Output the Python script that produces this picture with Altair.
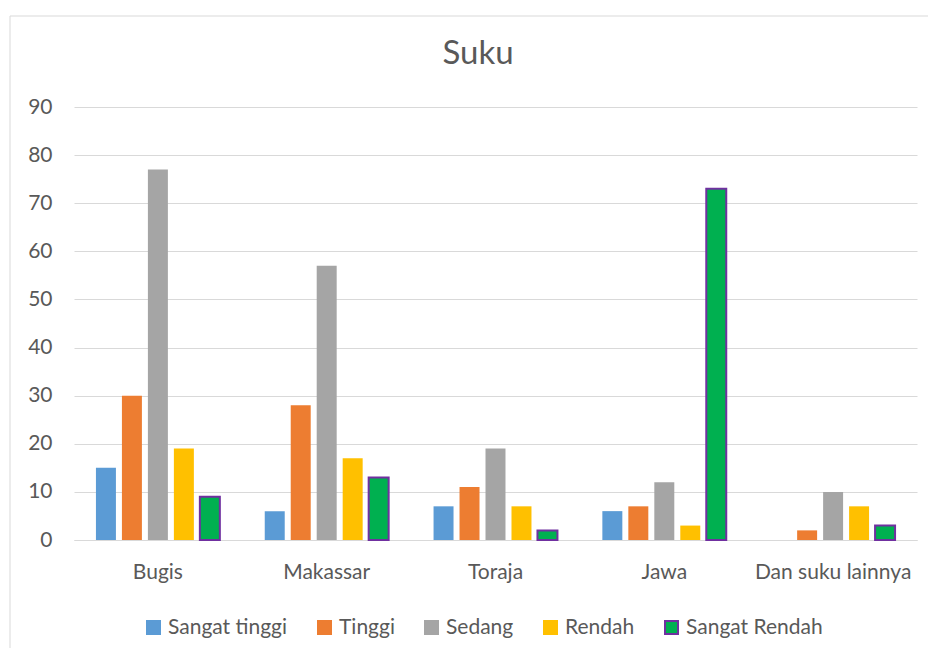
import altair as alt
import pandas as pd

categories = ["Bugis", "Makassar", "Toraja", "Jawa", "Dan suku lainnya"]
series = ["Sangat tinggi", "Tinggi", "Sedang", "Rendah", "Sangat Rendah"]
sangat_tinggi = [15, 6, 7, 6, 0]
tinggi = [30, 28, 11, 7, 2]
sedang = [77, 57, 19, 12, 10]
rendah = [19, 17, 7, 3, 7]
sangat_rendah = [9, 13, 2, 73, 3]
y_ticks = [0, 10, 20, 30, 40, 50, 60, 70, 80, 90]

fill_colors = ["#5B9BD5", "#ED7D31", "#A5A5A5", "#FFC000", "#00B050"]
stroke_colors = ["#5B9BD5", "#ED7D31", "#A5A5A5", "#FFC000", "#7030A0"]

rows = []
for s, vals in zip(series, [sangat_tinggi, tinggi, sedang, rendah, sangat_rendah]):
    for c, v in zip(categories, vals):
        rows.append({"Suku": c, "Series": s, "Value": v})
df = pd.DataFrame(rows)

FONT = "Lato"
TXT = "#595959"

legend = alt.Legend(
    title=None, orient="none", direction="horizontal",
    legendX=69, legendY=510,
    symbolType="square", symbolSize=169, symbolStrokeWidth=2,
    labelFont=FONT, labelFontSize=21, labelColor=TXT,
    labelOffset=4, columnPadding=26,
)

bars = alt.Chart(df).mark_bar().encode(
    x=alt.X("Suku:N", sort=categories,
            scale=alt.Scale(domain=categories, paddingInner=0.266, paddingOuter=0.13),
            axis=alt.Axis(title=None, labelAngle=0, ticks=False, domain=True,
                          domainColor="#D9D9D9", labelPadding=21,
                          labelFont=FONT, labelFontSize=21, labelColor=TXT)),
    xOffset=alt.XOffset("Series:N", sort=series,
                        scale=alt.Scale(domain=series, paddingInner=0.2308)),
    y=alt.Y("Value:Q", scale=alt.Scale(domain=[0, 90], nice=False),
            axis=alt.Axis(title=None, values=y_ticks, grid=True, gridColor="#D9D9D9",
                          domain=False, ticks=False, labelPadding=22,
                          labelFont=FONT, labelFontSize=21, labelColor=TXT)),
    fill=alt.Fill("Series:N", sort=series,
                  scale=alt.Scale(domain=series, range=fill_colors), legend=legend),
    stroke=alt.Stroke("Series:N", sort=series,
                      scale=alt.Scale(domain=series, range=stroke_colors), legend=legend),
    strokeWidth=alt.condition("datum.Series == 'Sangat Rendah'", alt.value(2), alt.value(0)),
)

one = pd.DataFrame({"t": ["Suku"]})

title = alt.Chart(one).mark_text(
    font=FONT, fontSize=33, color=TXT, align="center", baseline="alphabetic"
).encode(text="t:N", x=alt.value(404), y=alt.value(-43))

frame_v = alt.Chart(one).mark_rule(color="#D9D9D9", strokeWidth=1).encode(
    x=alt.value(-64), y=alt.value(-91), y2=alt.value(560))
frame_h = alt.Chart(one).mark_rule(color="#D9D9D9", strokeWidth=1).encode(
    x=alt.value(-64), x2=alt.value(1000), y=alt.value(-91))

chart = alt.layer(frame_v, frame_h, title, bars).properties(
    width=843, height=433,
    autosize=alt.AutoSizeParams(type="none"),
    padding={"left": 66, "top": 99, "right": 11, "bottom": 108},
    background="white",
).configure_view(stroke=None)

chart.save("out.html", embed_options={"renderer": "svg", "actions": False})
